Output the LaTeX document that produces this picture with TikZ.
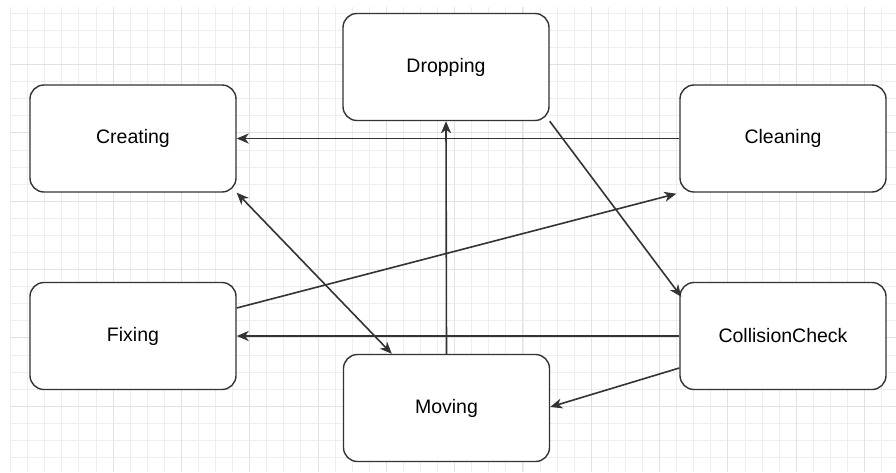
\documentclass[tikz,border=0pt]{standalone}
\usepackage{fontspec}
\setmainfont{Liberation Sans}
\usetikzlibrary{arrows.meta}
\definecolor{gridminor}{HTML}{EEEEEE}
\definecolor{gridmajor}{HTML}{E2E2E2}
\definecolor{edgegray}{HTML}{333333}
\begin{document}
\begin{tikzpicture}[x=1pt,y=-1pt,
  state/.style={draw=edgegray,line width=1.4pt,fill=white,rounded corners=14pt,
    minimum width=206pt,minimum height=107pt,inner sep=0pt,
    font=\fontsize{19.5}{22}\selectfont},
  trans/.style={draw=edgegray,line width=1.6pt,-{Stealth[length=12pt,width=10pt,inset=3.5pt]}},
  bitrans/.style={trans,{Stealth[length=12pt,width=10pt,inset=3.5pt]}-{Stealth[length=12pt,width=10pt,inset=3.5pt]}}]
\useasboundingbox[fill=white] (0,0) rectangle (896,472);
% grid
\foreach \k in {0,...,51}
  \draw[gridminor,line width=0.8pt] (10.5+17.08*\k,7) -- (10.5+17.08*\k,472);
\foreach \k in {0,...,26}
  \draw[gridminor,line width=0.8pt] (10,13.3+17.08*\k) -- (896,13.3+17.08*\k);
\foreach \k in {0,...,11}
  \draw[gridmajor,line width=0.9pt] (113+68.32*\k,7) -- (113+68.32*\k,472);
\foreach \k in {0,...,6}
  \draw[gridmajor,line width=0.9pt] (10,64.5+68.32*\k) -- (896,64.5+68.32*\k);

% states
\node[state] (creating) at (133,138.5) {Creating};
\node[state] (dropping) at (446,67) {Dropping};
\node[state] (cleaning) at (783,138.5) {Cleaning};
\node[state] (fixing) at (133,336) {Fixing};
\node[state] (collision) at (783,336) {CollisionCheck};
\node[state] (moving) at (446.5,408) {Moving};

% transitions
\draw[trans] (cleaning.west) -- (creating.east);
\draw[trans] (moving.north) -- (dropping.south);
\draw[trans] (dropping.south east) -- ([xshift=2pt,yshift=-15pt]collision.north west);
\draw[bitrans] (creating.south east) -- ([xshift=49pt]moving.north west);
\draw[trans] ([yshift=28pt]fixing.east) -- ([xshift=-3pt,yshift=-1pt]cleaning.south west);
\draw[trans] (collision.west) -- (fixing.east);
\draw[trans] ([yshift=-32pt]collision.west) -- ([yshift=1pt]moving.east);
\end{tikzpicture}
\end{document}
